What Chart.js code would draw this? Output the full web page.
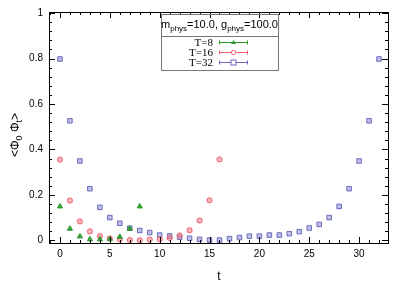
<!DOCTYPE html>
<html>
<head>
<meta charset="utf-8">
<script src="https://cdn.jsdelivr.net/npm/chart.js@4.4.0/dist/chart.umd.min.js"></script>
<style>
  html, body { margin: 0; padding: 0; background: #fff; }
</style>
</head>
<body>
<canvas id="chart" width="407" height="285"></canvas>
<script>
// correlator <Phi_0 Phi_t> for three lattice sizes
const tT8 = [0, 1, 2, 3, 4, 5, 6, 7, 8];
const corrT8 = [0.149, 0.051, 0.017, 0.004, 0.004, 0.005, 0.015, 0.051, 0.149];

const tT16 = [0, 1, 2, 3, 4, 5, 6, 7, 8, 9, 10, 11, 12, 13, 14, 15, 16];
const corrT16 = [0.355, 0.175, 0.083, 0.039, 0.018, 0.008, 0.004, 0.001, 0.0,
                 0.003, 0.005, 0.010, 0.021, 0.044, 0.087, 0.176, 0.356];

const tT32 = [0, 1, 2, 3, 4, 5, 6, 7, 8, 9, 10, 11, 12, 13, 14, 15, 16,
              17, 18, 19, 20, 21, 22, 23, 24, 25, 26, 27, 28, 29, 30, 31, 32];
const corrT32 = [0.798, 0.526, 0.349, 0.227, 0.145, 0.100, 0.075, 0.053, 0.043,
                 0.034, 0.023, 0.019, 0.013, 0.009, 0.004, 0.001, 0.001,
                 0.007, 0.012, 0.018, 0.018, 0.023, 0.023, 0.029, 0.038,
                 0.054, 0.070, 0.100, 0.149, 0.227, 0.349, 0.526, 0.798];

const seriesLabels = ['T=8', 'T=16', 'T=32'];
const xTicks = [0, 5, 10, 15, 20, 25, 30];
const yTicks = [0, 0.2, 0.4, 0.6, 0.8, 1];

function toPoints(xs, ys) {
    return xs.map((x, i) => ({ x: x, y: ys[i] }));
}

// inward ticks on all four sides + frame
const frameTicks = {
    id: 'frameTicks',
    afterDraw(chart) {
        const ctx = chart.ctx;
        const a = chart.chartArea;
        const xs = chart.scales.x, ys = chart.scales.y;
        ctx.save();
        ctx.strokeStyle = '#000';
        ctx.lineWidth = 1;
        ctx.beginPath();
        for (let t = -1; t <= 33; t++) {
            const px = Math.round(xs.getPixelForValue(t)) + 0.5;
            if (px < a.left || px > a.right) continue;
            const len = (t % 5 === 0) ? 6 : 3;
            ctx.moveTo(px, a.bottom); ctx.lineTo(px, a.bottom - len);
            ctx.moveTo(px, a.top); ctx.lineTo(px, a.top + len);
        }
        for (let k = 0; k <= 25; k++) {
            const v = k * 0.04;
            const py = Math.round(ys.getPixelForValue(v)) + 0.5;
            const len = (k % 5 === 0) ? 6 : 3;
            ctx.moveTo(a.left, py); ctx.lineTo(a.left + len, py);
            ctx.moveTo(a.right, py); ctx.lineTo(a.right - len, py);
        }
        ctx.stroke();
        ctx.strokeRect(Math.round(a.left) + 0.5, Math.round(a.top) + 0.5,
                       Math.round(a.right - a.left), Math.round(a.bottom - a.top));
        ctx.restore();
    }
};

// axis titles with subscripts
const axisTitles = {
    id: 'axisTitles',
    afterDraw(chart) {
        const ctx = chart.ctx;
        ctx.save();
        ctx.fillStyle = '#000';
        ctx.font = '12px "Liberation Sans", Arial, sans-serif';
        ctx.textAlign = 'center';
        ctx.textBaseline = 'middle';
        ctx.fillText('t', 219, 277);

        // y title, rotated
        const parts = [['<Φ', 0], ['0', 1], [' Φ', 0], ['t', 1], ['>', 0]];
        const big = '12px "Liberation Sans", Arial, sans-serif';
        const small = '9px "Liberation Sans", Arial, sans-serif';
        let total = 0;
        parts.forEach(p => { ctx.font = p[1] ? small : big; total += ctx.measureText(p[0]).width; });
        ctx.translate(15, 135);
        ctx.rotate(-Math.PI / 2);
        ctx.textAlign = 'left';
        ctx.textBaseline = 'alphabetic';
        let x = -total / 2;
        parts.forEach(p => {
            ctx.font = p[1] ? small : big;
            ctx.fillText(p[0], x, p[1] ? 7 : 4);
            x += ctx.measureText(p[0]).width;
        });
        ctx.restore();
    }
};

// gnuplot-style key box
const keyBox = {
    id: 'keyBox',
    afterDraw(chart) {
        const ctx = chart.ctx;
        const left = 161, top = 14, right = 278, bottom = 70;
        ctx.save();
        ctx.strokeStyle = '#777';
        ctx.lineWidth = 1;
        ctx.strokeRect(left + 0.5, top + 0.5, right - left, bottom - top);
        ctx.beginPath();
        ctx.moveTo(left, 36.5); ctx.lineTo(right, 36.5);
        ctx.stroke();

        // title with subscripts
        const parts = [['m', 0], ['phys', 1], ['=10.0, g', 0], ['phys', 1], ['=100.0', 0]];
        const big = '11px "Liberation Sans", Arial, sans-serif';
        const small = '8px "Liberation Sans", Arial, sans-serif';
        let total = 0;
        parts.forEach(p => { ctx.font = p[1] ? small : big; total += ctx.measureText(p[0]).width; });
        let x = (left + right) / 2 - total / 2;
        ctx.fillStyle = '#000';
        ctx.textBaseline = 'alphabetic';
        ctx.textAlign = 'left';
        parts.forEach(p => {
            ctx.font = p[1] ? small : big;
            ctx.fillText(p[0], x, p[1] ? 31 : 28);
            x += ctx.measureText(p[0]).width;
        });

        const rows = [42.5, 52.5, 62.5];
        chart.data.datasets.forEach((ds, i) => {
            const y = rows[i];
            ctx.font = '11px "Liberation Serif", "Times New Roman", serif';
            ctx.textAlign = 'right';
            ctx.textBaseline = 'middle';
            ctx.fillStyle = '#000';
            ctx.fillText(ds.label, 213, y + 0.5);
            ctx.strokeStyle = ds.borderColor;
            ctx.beginPath();
            ctx.moveTo(219, y); ctx.lineTo(248, y);
            ctx.moveTo(219.5, y - 2); ctx.lineTo(219.5, y + 2);
            ctx.moveTo(247.5, y - 2); ctx.lineTo(247.5, y + 2);
            ctx.stroke();
            const cx = 233.5;
            ctx.fillStyle = '#fff';
            if (ds.pointStyle === 'triangle') {
                ctx.fillStyle = ds.borderColor;
                ctx.beginPath();
                ctx.moveTo(cx, y - 2.5); ctx.lineTo(cx + 2.5, y + 1.5); ctx.lineTo(cx - 2.5, y + 1.5);
                ctx.closePath(); ctx.fill();
            } else if (ds.pointStyle === 'circle') {
                ctx.beginPath(); ctx.arc(cx, y, 2.2, 0, Math.PI * 2); ctx.fill(); ctx.stroke();
            } else {
                ctx.fillRect(cx - 2.5, y - 2.5, 5, 5);
                ctx.strokeRect(cx - 2.5, y - 2.5, 5, 5);
            }
        });
        ctx.restore();
    }
};

const tickFont = { family: '"Liberation Sans", Arial, sans-serif', size: 10 };

new Chart(document.getElementById('chart'), {
    type: 'scatter',
    data: {
        datasets: [
            {
                label: seriesLabels[0],
                data: toPoints(tT8, corrT8),
                pointStyle: 'triangle',
                pointRadius: 3,
                backgroundColor: 'rgba(30,150,30,0.85)',
                borderColor: '#2a9a2a',
                borderWidth: 1
            },
            {
                label: seriesLabels[1],
                data: toPoints(tT16, corrT16),
                pointStyle: 'circle',
                pointRadius: 2.6,
                backgroundColor: 'rgba(240,120,130,0.55)',
                borderColor: '#ee6070',
                borderWidth: 1
            },
            {
                label: seriesLabels[2],
                data: toPoints(tT32, corrT32),
                pointStyle: 'rect',
                pointRadius: 3.2,
                backgroundColor: 'rgba(130,130,210,0.5)',
                borderColor: '#6a6ac0',
                borderWidth: 1
            }
        ]
    },
    options: {
        responsive: false,
        animation: false,
        layout: { padding: { left: 0, top: 11, right: 19, bottom: 0 } },
        plugins: {
            legend: { display: false },
            tooltip: { enabled: false }
        },
        scales: {
            x: {
                type: 'linear',
                min: -1.1,
                max: 32.9,
                afterBuildTicks: s => { s.ticks = xTicks.map(v => ({ value: v })); },
                afterFit: s => { s.height = 42; },
                grid: { display: false, drawTicks: false },
                border: { display: false },
                ticks: { color: '#000', font: tickFont, padding: 5, maxRotation: 0,
                         callback: v => String(v) }
            },
            y: {
                type: 'linear',
                min: -0.012,
                max: 1.005,
                afterBuildTicks: s => { s.ticks = yTicks.map(v => ({ value: v })); },
                afterFit: s => { s.width = 49; },
                grid: { display: false, drawTicks: false },
                border: { display: false },
                ticks: { color: '#000', font: tickFont, padding: 6,
                         callback: v => String(Math.round(v * 10) / 10) }
            }
        }
    },
    plugins: [frameTicks, axisTitles, keyBox]
});
</script>
</body>
</html>
